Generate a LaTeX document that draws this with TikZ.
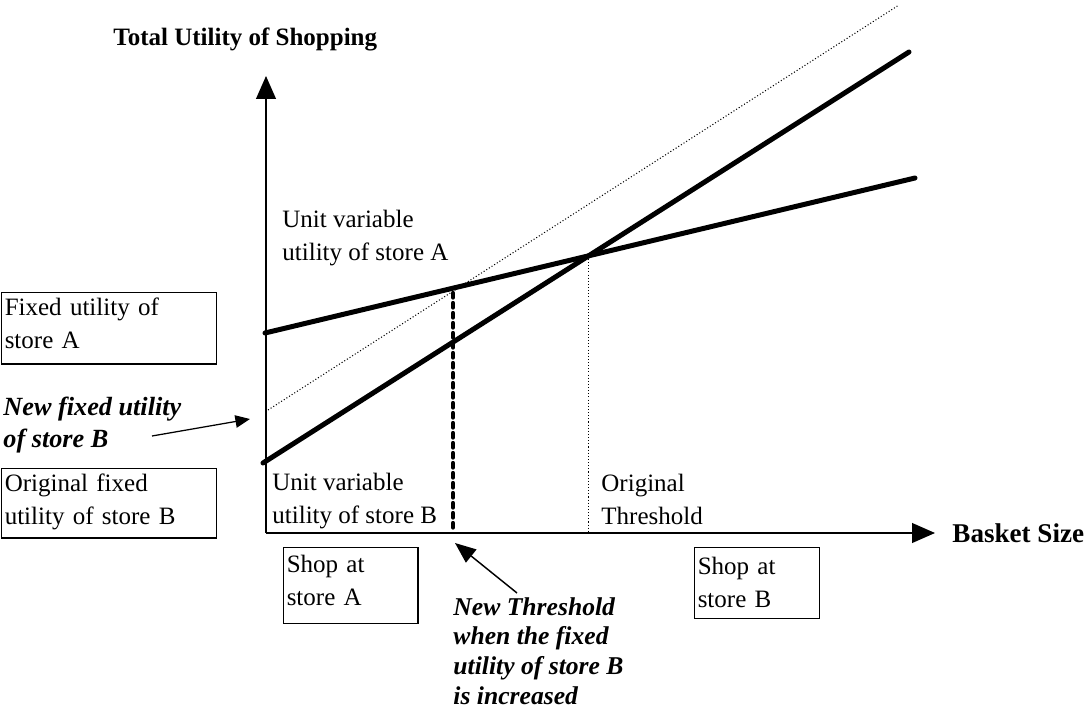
\documentclass[tikz,border=0pt]{standalone}
\usepackage{fontspec}
\setmainfont{Liberation Serif}
\usetikzlibrary{arrows.meta,positioning}

\begin{document}
\begin{tikzpicture}[
    x=0.48pt, y=-0.48pt,
    every node/.style={font=\fontsize{12}{15.8}\selectfont, inner sep=0pt, align=left},
    axis/.style={line width=0.7pt, -{Triangle[length=11pt,width=9.5pt]}},
    utilline/.style={line width=2.4pt, line cap=round},
    guide/.style={line width=0.5pt, dash pattern=on 0.5pt off 1pt},
    thrline/.style={line width=2pt, line cap=round, dash pattern=on 2.2pt off 2.6pt},
    textbox/.style={draw, line width=0.6pt, anchor=north west, inner xsep=1.5pt},
    note/.style={font=\fontsize{12.6}{15}\selectfont\bfseries\itshape},
    pointer/.style={line width=0.6pt, -{Triangle[length=7pt,width=6pt]}},
    bigpointer/.style={line width=0.7pt, -{Triangle[length=10pt,width=8pt]}}
]
\useasboundingbox (0,0) rectangle (1088,710);

% Axes
\coordinate (origin) at (266,533);
\coordinate (yTip) at (266,76);
\coordinate (xTip) at (935,533);
\draw[axis] (origin) -- (yTip);
\draw[axis] (origin) -- (xTip);
\node[anchor=north west, font=\fontsize{12}{14}\selectfont\bfseries] (yTitle) at (113,27) {Total Utility of Shopping};
\node[anchor=west, font=\fontsize{13}{15}\selectfont\bfseries] (xTitle) at (952,533) {Basket Size};

% Utility lines
\coordinate (aStart) at (265,333);
\coordinate (aEnd) at (915,178);
\coordinate (bStart) at (263,463);
\coordinate (bEnd) at (909,52);
\coordinate (nStart) at (268,410);
\coordinate (nEnd) at (899,5);
\draw[guide] (nStart) -- (nEnd);
\draw[utilline] (aStart) -- (aEnd);
\draw[utilline] (bStart) -- (bEnd);

% Thresholds
\coordinate (cross) at (intersection of aStart--aEnd and bStart--bEnd);
\draw[guide] (cross) -- (cross |- origin);
\coordinate (thrTop) at (453,293);
\draw[thrline] (thrTop) -- (thrTop |- origin);

% Labels
\node[anchor=north west] (unitA) at (282,210) {Unit variable\\utility of store A};
\node[anchor=north west] (unitB) at (272,473) {Unit variable\\utility of store B};
\node[anchor=north west] (origThr) at (601,474) {Original\\Threshold};
\node[textbox, text width=100pt, inner ysep=2.5pt, text depth=20.8pt] (fixedA) at (1,292) {Fixed utility of\\store A};
\node[textbox, text width=100pt, inner ysep=2.6pt, text depth=19.6pt] (fixedB) at (1,468) {Original fixed\\utility of store B};
\node[textbox, text width=61.5pt, inner ysep=3.5pt, text depth=21pt] (shopA) at (283,547) {Shop at\\store A};
\node[textbox, text width=57pt, inner ysep=4.5pt, text depth=16.6pt] (shopB) at (694,547) {Shop at\\store B};
\node[note, anchor=north west] (newFixed) at (3,397) {New fixed utility\\of store B};
\node[note, anchor=north west, font=\fontsize{12.3}{14.3}\selectfont\bfseries\itshape] (newThr) at (453,597) {New Threshold\\when the fixed\\utility of store B\\is increased};

% Pointers
\coordinate (newFixedTail) at (152,436);
\coordinate (newFixedTip) at (250,419);
\draw[pointer] (newFixedTail) -- (newFixedTip);
\coordinate (newThrTail) at (517,593);
\coordinate (newThrTip) at (455,543);
\draw[bigpointer] (newThrTail) -- (newThrTip);

\end{tikzpicture}
\end{document}
